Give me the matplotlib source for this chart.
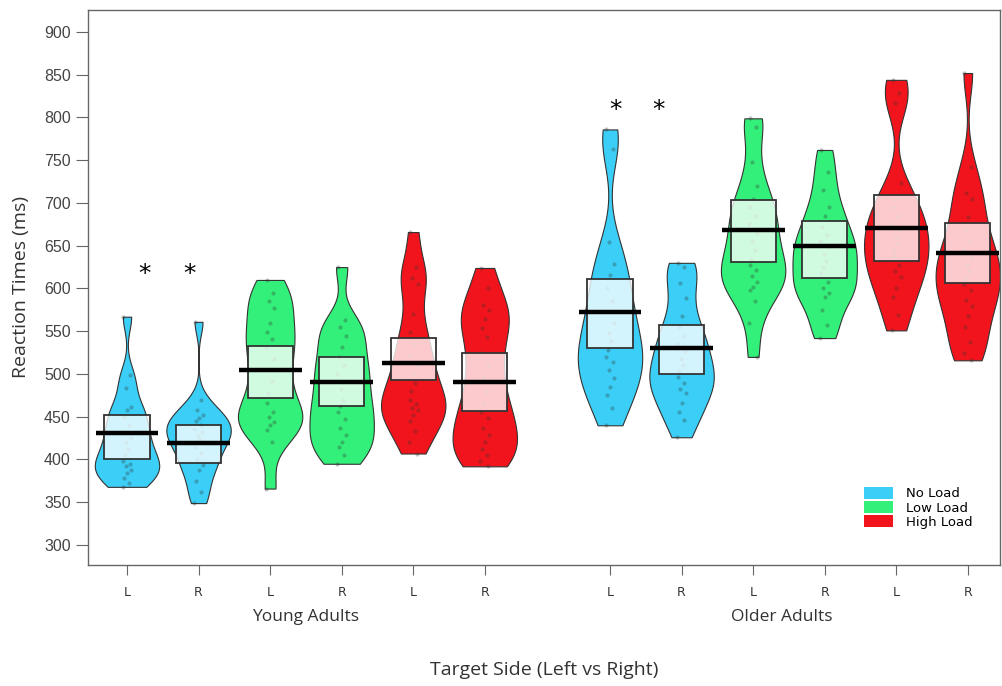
import matplotlib.pyplot as plt
import matplotlib.patches as mpatches
import numpy as np

# x tick labels / groups
sides = ['L', 'R', 'L', 'R', 'L', 'R', 'L', 'R', 'L', 'R', 'L', 'R']
loads = ['No Load', 'No Load', 'Low Load', 'Low Load', 'High Load', 'High Load',
         'No Load', 'No Load', 'Low Load', 'Low Load', 'High Load', 'High Load']
groups = ['Young Adults', 'Older Adults']

young_L_no = [567, 499, 484, 461, 458, 450, 440, 432, 425, 420, 412, 405, 398, 395, 392, 388, 384, 378, 372, 368]
young_R_no = [561, 470, 458, 452, 448, 445, 440, 436, 432, 428, 424, 420, 415, 408, 400, 393, 388, 375, 362, 349]
young_L_low = [610, 595, 585, 577, 560, 549, 541, 530, 518, 505, 492, 478, 466, 456, 450, 444, 440, 434, 420, 366]
young_R_low = [625, 563, 555, 545, 532, 520, 510, 500, 492, 482, 470, 462, 455, 447, 437, 429, 420, 415, 405, 395]
young_L_high = [666, 625, 612, 605, 570, 549, 535, 522, 510, 500, 490, 480, 470, 465, 460, 458, 452, 445, 433, 420, 407]
young_R_high = [624, 600, 581, 575, 564, 554, 543, 525, 510, 495, 480, 465, 455, 449, 437, 429, 420, 412, 405, 398, 392]
older_L_no = [786, 763, 654, 629, 616, 600, 585, 572, 560, 548, 538, 528, 520, 514, 505, 495, 485, 475, 460, 440]
older_R_no = [630, 625, 606, 589, 568, 555, 545, 535, 527, 518, 510, 503, 497, 489, 482, 478, 466, 456, 446, 426]
older_L_low = [799, 789, 748, 720, 705, 695, 685, 675, 665, 655, 645, 635, 628, 622, 615, 608, 602, 598, 585, 560, 520]
older_R_low = [762, 736, 715, 695, 685, 672, 662, 655, 648, 640, 632, 625, 618, 608, 600, 595, 590, 575, 557, 542]
older_L_high = [844, 829, 817, 723, 705, 695, 685, 676, 668, 660, 652, 645, 638, 627, 620, 613, 600, 590, 569, 551]
older_R_high = [852, 742, 712, 705, 684, 668, 655, 645, 636, 628, 620, 612, 605, 598, 587, 579, 568, 555, 537, 525, 516]

data = [young_L_no, young_R_no, young_L_low, young_R_low, young_L_high, young_R_high,
        older_L_no, older_R_no, older_L_low, older_R_low, older_L_high, older_R_high]

# means and inference band (box)
means = [431, 419, 505, 491, 513, 491, 572, 530, 668, 650, 671, 641]
box_lo = [400, 396, 472, 463, 493, 457, 530, 500, 631, 612, 632, 606]
box_hi = [452, 440, 533, 520, 542, 525, 611, 557, 703, 679, 709, 677]

# significance stars
star_x = [1.25, 1.87, 7.82, 8.43]
star_y = [617, 617, 809, 809]

colors = {'No Load': '#3BCFF7', 'Low Load': '#33F07A', 'High Load': '#F2141C'}

pos = np.array([1, 2, 3, 4, 5, 6, 7.75, 8.75, 9.75, 10.75, 11.75, 12.75])
jitter = [-0.05, 0.04, -0.02, 0.06, 0.0, -0.04, 0.03, -0.06, 0.05, -0.01, 0.02, -0.03]

fig = plt.figure(figsize=(10.02, 6.86), dpi=100)
ax = fig.add_axes([88 / 1002, 1 - 565 / 686, 912 / 1002, 555 / 686])

vp = ax.violinplot(data, positions=pos, widths=0.9, bw_method=0.32,
                   showmeans=False, showextrema=False, showmedians=False)
for body, ld in zip(vp['bodies'], loads):
    body.set_facecolor(colors[ld])
    body.set_edgecolor('#333333')
    body.set_linewidth(0.8)
    body.set_alpha(1)
    body.set_zorder(1)

# dots
for x, vals in zip(pos, data):
    offs = [jitter[i % len(jitter)] for i in range(len(vals))]
    ax.scatter(x + np.array(offs), vals, s=9, color='#333333', alpha=0.3,
               linewidths=0, zorder=2)

# boxes
ax.bar(pos, np.array(box_hi) - np.array(box_lo), bottom=box_lo, width=0.63,
       color='white', alpha=0.78, edgecolor='none', zorder=3)
ax.bar(pos, np.array(box_hi) - np.array(box_lo), bottom=box_lo, width=0.63,
       fill=False, edgecolor='#333333', linewidth=1.3, zorder=4)

# mean lines
ax.hlines(means, pos - 0.44, pos + 0.44, color='black', linewidth=3.2, zorder=5)

for sx, sy in zip(star_x, star_y):
    ax.text(sx, sy, '*', fontsize=18, ha='center', va='center', color='black')

ax.set_xlim(0.455, 13.2)
ax.set_ylim(276.6, 925.7)
yt = list(range(300, 901, 50))
ax.set_yticks(yt)
ax.set_yticklabels([str(v) for v in yt], fontsize=11.5, color='#444444',
                   family='Liberation Sans')
ax.set_xticks(pos)
ax.set_xticklabels(sides, fontsize=9, color='#333333', family='DejaVu Sans')
ax.tick_params(axis='y', length=9, color='#666666')
ax.tick_params(axis='x', length=7, color='#666666', pad=8)
for sp in ax.spines.values():
    sp.set_color('#666666')
    sp.set_linewidth(1)

ax.set_ylabel('Reaction Times (ms)', fontsize=14, family='Open Sans', color='#333333', labelpad=10)

ax.text((pos[0] + pos[5]) / 2, -0.094, groups[0], transform=ax.get_xaxis_transform(),
        ha='center', va='center', fontsize=12.5, family='Open Sans', color='#333333')
ax.text((pos[6] + pos[11]) / 2 - 0.1, -0.094, groups[1], transform=ax.get_xaxis_transform(),
        ha='center', va='center', fontsize=12.5, family='Open Sans', color='#333333')
ax.text(0.5, -0.19, 'Target Side (Left vs Right)', transform=ax.transAxes,
        ha='center', va='center', fontsize=14, family='Open Sans', color='#333333')

handles = [mpatches.Patch(facecolor=colors[k], edgecolor='none', label=k)
           for k in ['No Load', 'Low Load', 'High Load']]
ax.legend(handles=handles, loc='upper left', bbox_to_anchor=(0.845, 0.15), frameon=False,
          fontsize=9.5, handlelength=2.2, handleheight=1.0, labelspacing=0.05,
          handletextpad=1.0, borderaxespad=0)

fig.savefig('out.png', dpi=100)
